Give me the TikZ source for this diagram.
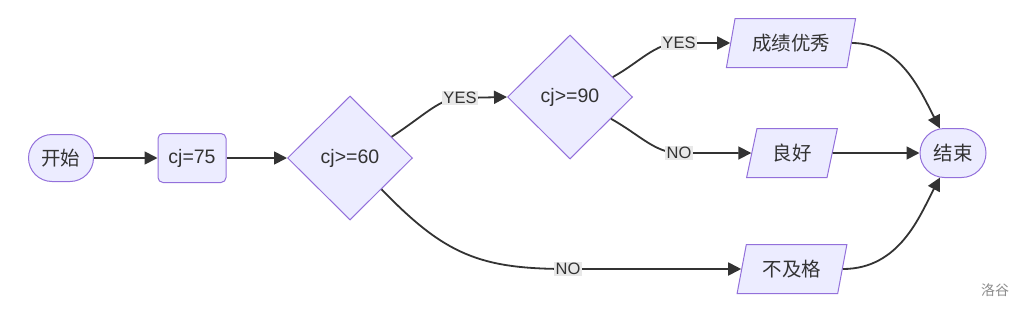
\documentclass[tikz,border=0pt]{standalone}
\usepackage{fontspec}
\setmainfont{Liberation Sans}
\newfontfamily\cjk{Noto Sans CJK SC}
\definecolor{nodefill}{HTML}{ECECFF}
\definecolor{nodeline}{HTML}{9370DB}
\definecolor{linkgray}{HTML}{333333}
\definecolor{labelbg}{HTML}{E8E8E8}
\usetikzlibrary{shapes.geometric, shapes.misc, arrows.meta}
\tikzset{
    box/.style={
           draw=nodeline, fill=nodefill,
           line width=1pt,
           text=linkgray,
           inner sep=2pt,
           font=\fontsize{19.5}{22}\selectfont,
           },
    terminal/.style={box, rounded rectangle, minimum width=69pt, minimum height=47pt},
    process/.style={box, rectangle, rounded corners=5pt, minimum width=68pt, minimum height=49pt},
    decision/.style={box, diamond, minimum width=125pt, minimum height=124pt, inner sep=0pt},
    io/.style={box, trapezium, trapezium left angle=74, trapezium right angle=106,
           trapezium stretches=true, minimum height=49pt},
    flow/.style={-{Triangle[length=13pt,width=13pt]}, draw=linkgray, line width=1.8pt},
    lbl/.style={fill=labelbg, text=linkgray, inner sep=1.5pt, font=\fontsize{16.5}{18}\selectfont},
}
\newcommand{\zh}[1]{{\cjk #1}}

\begin{document}
\begin{tikzpicture}[x=1pt, y=1pt]
      \useasboundingbox (0,0) rectangle (1020,-311);
      \node[terminal] (start) at (61,-158) {\zh{开始}};
      \node[process]  (cj)    at (192,-158) {cj=75};
      \node[decision] (ge60)  at (350,-158) {cj>=60};
      \node[decision] (ge90)  at (570,-97)  {cj>=90};
      \node[io, minimum width=130pt] (exc)  at (791,-43)  {\zh{成绩优秀}};
      \node[io, minimum width=91pt]  (good) at (792,-153) {\zh{良好}};
      \node[io, minimum width=110pt] (fail) at (792,-269) {\zh{不及格}};
      \node[terminal, minimum width=70pt, minimum height=49pt] (stop) at (953,-153) {\zh{结束}};
      \node[text=gray!90, font=\fontsize{14}{16}\selectfont] (mark) at (995,-290) {\zh{洛谷}};
      \draw[flow] (start) -- (cj);
      \draw[flow] (cj) -- (ge60);
      \draw[flow] (ge60.27) .. controls (425,-115) and (440,-98) .. (460,-98) node[lbl]{YES} -- (ge90.west);
      \draw[flow] (ge60.south east) .. controls (445,-255) and (480,-269) .. (568,-269) node[lbl]{NO} -- (fail.west);
      \draw[flow] (ge90.25) .. controls (640,-62) and (655,-43) .. (679,-43) node[lbl]{YES} -- (exc.west);
      \draw[flow] (ge90.-28) .. controls (640,-135) and (655,-153) .. (679,-153) node[lbl]{NO} -- (good.west);
      \draw[flow] (exc.east) .. controls (900,-43) and (920,-90) .. (stop.118);
      \draw[flow] (good) -- (stop);
      \draw[flow] (fail.east) .. controls (900,-269) and (920,-215) .. (stop.242);
\end{tikzpicture}
\end{document}
